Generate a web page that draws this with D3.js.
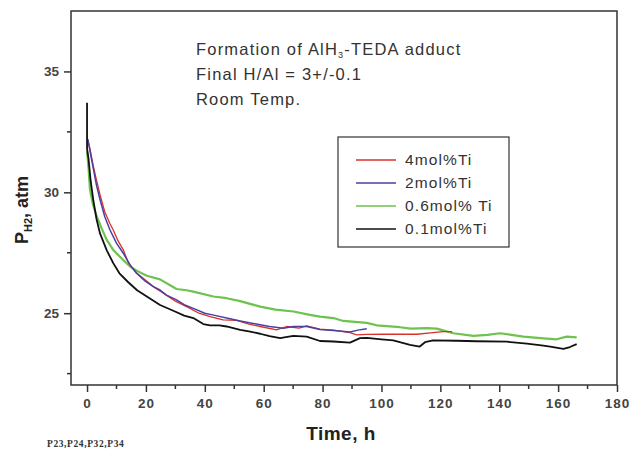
<!DOCTYPE html>
<html>
<head>
<meta charset="utf-8">
<script src="https://cdn.jsdelivr.net/npm/d3@7"></script>
<style>
  body { margin: 0; background: #fff; }
  svg { display: block; }
</style>
</head>
<body>
<svg id="chart" width="630" height="449"></svg>
<script>
// data: [time (h), P_H2 (atm)]
const ti4 = [[0.3,32.1],[1,31.8],[2.1,31.1],[3.2,30.5],[4.4,29.9],[6,29.2],[7.8,28.7],[8.9,28.44],[10.5,28.0],[12.3,27.62],[14,27.1],[15.5,26.85],[17,26.65],[20,26.35],[22.5,26.1],[25,25.9],[30,25.5],[35,25.2],[38,25.0],[41.8,24.86],[46.2,24.72],[50.8,24.7],[55,24.55],[58.8,24.45],[64.4,24.31],[67.8,24.45],[72,24.38],[74.6,24.48],[79.1,24.34],[83.7,24.3],[89.3,24.2],[91.6,24.1],[95,24.12],[100.7,24.13],[112,24.13],[117.5,24.2],[120.9,24.24],[124,24.24]]
const ti2 = [[0.3,32.2],[1,31.7],[2.1,31.0],[3.2,30.3],[4.4,29.7],[6,29.0],[7.8,28.44],[10,27.9],[12.3,27.48],[14.6,27.0],[16.8,26.65],[19.5,26.35],[22.5,26.1],[24.8,25.96],[27,25.75],[30.4,25.55],[33,25.35],[36.1,25.2],[40,25.0],[43,24.92],[47.4,24.8],[52,24.68],[58.8,24.52],[62,24.45],[66.7,24.38],[70,24.45],[74.6,24.45],[79.1,24.33],[83.7,24.28],[89.3,24.22],[92,24.3],[95,24.36]]
const ti06 = [[0,31.7],[0.5,31.0],[1,30.1],[2,29.5],[3.3,29.0],[5,28.5],[6.7,28.03],[9,27.6],[12.3,27.2],[14.6,26.93],[17,26.75],[20.3,26.55],[24.8,26.4],[30.4,26.0],[33.8,25.95],[36.1,25.89],[42.9,25.69],[47.4,25.62],[52,25.5],[58.8,25.27],[64,25.15],[70.1,25.07],[75.7,24.93],[79.1,24.86],[83.7,24.8],[87,24.68],[95,24.6],[98.4,24.5],[106.3,24.42],[110,24.36],[115.4,24.38],[118.8,24.36],[120,24.32],[124.4,24.17],[131.2,24.06],[136,24.1],[140.3,24.17],[148.2,24.03],[154,23.97],[159.5,23.92],[162.9,24.03],[166.3,24.0]]
const ti01 = [[0,33.7],[0,31.8],[0.5,31.4],[1.2,30.5],[2.1,29.7],[3.2,28.9],[4.4,28.3],[6.7,27.6],[8.9,27.07],[11,26.65],[14,26.28],[17,25.95],[20.3,25.69],[24.8,25.34],[29.3,25.1],[33,24.9],[36.1,24.8],[39.5,24.55],[41.8,24.5],[45,24.5],[47.4,24.45],[52,24.31],[55,24.25],[58.8,24.15],[62,24.05],[65.6,23.97],[67,24.0],[70.1,24.06],[74.6,24.03],[79.1,23.85],[83.7,23.83],[89.3,23.78],[92.7,23.97],[95,23.98],[100,23.92],[104,23.88],[109.7,23.69],[113,23.62],[114.8,23.8],[117.5,23.88],[125.5,23.86],[132.3,23.84],[142.6,23.82],[149.4,23.74],[155,23.66],[157.3,23.62],[161.8,23.52],[164,23.6],[166.3,23.72]]

const seriesNames = ['4mol%Ti', '2mol%Ti', '0.6mol% Ti', '0.1mol%Ti']
const seriesData = [ti4, ti2, ti06, ti01]
const colors = ['#d8322a', '#4b3fa3', '#6ec24e', '#111111']
const widths = [1.3, 1.5, 2.2, 1.8]
const drawOrder = [2, 0, 1, 3]

const xTicks = [0, 20, 40, 60, 80, 100, 120, 140, 160, 180]
const yTicks = [25, 30, 35]
const noteLines = ['Formation of AlH', '3', '-TEDA adduct', 'Final H/Al = 3+/-0.1', 'Room Temp.']

const svg = d3.select('#chart')
const font = 'Arial, Liberation Sans, sans-serif'
const margin = { top: 11, right: 13, bottom: 64, left: 71 }
const width = 630, height = 449
const innerW = width - margin.left - margin.right
const innerH = height - margin.top - margin.bottom

const x = d3.scaleLinear().domain([-5.45, 180]).range([0, innerW])
const y = d3.scaleLinear().domain([22.03, 37.5]).range([innerH, 0])

const g = svg.append('g').attr('transform', `translate(${margin.left},${margin.top})`)

// frame
g.append('rect').attr('width', innerW).attr('height', innerH)
  .attr('fill', 'none').attr('stroke', '#333').attr('stroke-width', 1.5)

// x axis
const xMinor = d3.range(10, 180, 20)
const xAxis = g.append('g').attr('transform', `translate(0,${innerH})`)
  .call(d3.axisBottom(x).tickValues(xTicks).tickSize(7).tickPadding(6).tickFormat(d3.format('d')))
xAxis.select('.domain').remove()
xAxis.selectAll('line').attr('stroke', '#333').attr('stroke-width', 1.5)
xAxis.selectAll('text').attr('font-family', font).attr('letter-spacing', 1)
  .attr('font-size', 13.5).attr('font-weight', 'bold').attr('fill', '#444')
xAxis.selectAll('.minor').data(xMinor).enter().append('line')
  .attr('x1', d => x(d)).attr('x2', d => x(d)).attr('y1', 0).attr('y2', 4)
  .attr('stroke', '#333').attr('stroke-width', 1.5)

// y axis
const yMinor = [22.5, 27.5, 32.5]
const yAxis = g.append('g')
  .call(d3.axisLeft(y).tickValues(yTicks).tickSize(7).tickPadding(5))
yAxis.select('.domain').remove()
yAxis.selectAll('line').attr('stroke', '#333').attr('stroke-width', 1.5)
yAxis.selectAll('text').attr('font-family', font)
  .attr('font-size', 13.5).attr('font-weight', 'bold').attr('fill', '#444')
yAxis.selectAll('.minor').data(yMinor).enter().append('line')
  .attr('x1', -4).attr('x2', 0).attr('y1', d => y(d)).attr('y2', d => y(d))
  .attr('stroke', '#333').attr('stroke-width', 1.5)

// lines
const line = d3.line().x(d => x(d[0])).y(d => y(d[1]))
drawOrder.forEach(i => {
  g.append('path').datum(seriesData[i])
    .attr('fill', 'none')
    .attr('stroke', colors[i])
    .attr('stroke-width', widths[i])
    .attr('stroke-linejoin', 'round')
    .attr('d', line)
})

// annotation
const note = svg.append('g').attr('font-family', font)
  .attr('font-size', 16.5).attr('letter-spacing', 1.2).attr('fill', '#333')
const t1 = note.append('text').attr('x', 196).attr('y', 55)
t1.append('tspan').text(noteLines[0])
t1.append('tspan').attr('font-size', 9).attr('dy', 3).text(noteLines[1])
t1.append('tspan').attr('dy', -3).text(noteLines[2])
note.append('text').attr('x', 196).attr('y', 80).text(noteLines[3])
note.append('text').attr('x', 196).attr('y', 105).text(noteLines[4])

// legend
const legend = svg.append('g')
legend.append('rect').attr('x', 338).attr('y', 137).attr('width', 171).attr('height', 110)
  .attr('fill', '#fff').attr('stroke', '#333').attr('stroke-width', 1.2)
seriesNames.forEach((s, i) => {
  const ly = 160 + i * 23
  legend.append('line').attr('x1', 356).attr('x2', 396).attr('y1', ly).attr('y2', ly)
    .attr('stroke', colors[i]).attr('stroke-width', 1.3)
  legend.append('text').attr('x', 405).attr('y', ly + 5)
    .attr('font-family', font).attr('font-size', 15.5).attr('letter-spacing', 1.1)
    .attr('fill', '#333').text(s)
})

// axis titles
svg.append('text').attr('x', 341).attr('y', 440).attr('text-anchor', 'middle')
  .attr('font-family', font).attr('font-size', 19).attr('letter-spacing', 0.5)
  .attr('font-weight', 'bold').attr('fill', '#222').text('Time, h')

const yl = svg.append('text').attr('transform', 'translate(28,210) rotate(-90)')
  .attr('text-anchor', 'middle')
  .attr('font-family', font).attr('font-size', 18)
  .attr('font-weight', 'bold').attr('fill', '#222')
yl.append('tspan').text('P')
yl.append('tspan').attr('font-size', 11).attr('dy', 4).text('H2')
yl.append('tspan').attr('dy', -4).text(', atm')

svg.append('text').attr('x', 47).attr('y', 447)
  .attr('font-family', 'Liberation Serif, serif').attr('font-size', 9.5).attr('letter-spacing', 0.6)
  .attr('font-weight', 'bold').attr('fill', '#333').text('P23,P24,P32,P34')
</script>
</body>
</html>
